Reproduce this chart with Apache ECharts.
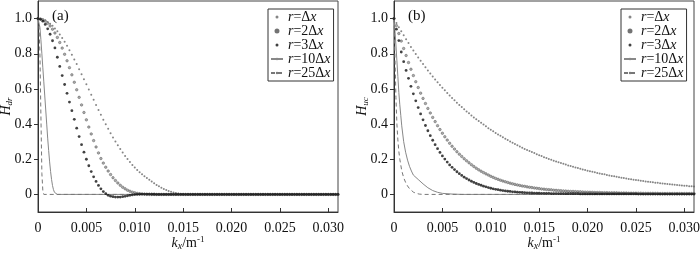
<!DOCTYPE html>
<html>
<head>
<meta charset="utf-8">
<script src="https://cdn.jsdelivr.net/npm/echarts@6/dist/echarts.min.js"></script>
<style>
  html, body { margin: 0; padding: 0; background: #fff; }
  #chart { width: 700px; height: 254px; }
</style>
</head>
<body>
<div id="chart"></div>
<script>
// sampling step of the dotted curves (k_x, 1/m)
const kStep = 0.00025

const xTicks = [0, 0.005, 0.01, 0.015, 0.02, 0.025, 0.03]
const yTicks = [0, 0.2, 0.4, 0.6, 0.8, 1.0]
const seriesNames = ['r=Δx', 'r=2Δx', 'r=3Δx', 'r=10Δx', 'r=25Δx']

// (a) H_dr
const aR1 = [
  1.000, 0.999, 0.995, 0.990, 0.981, 0.971, 0.959, 0.944, 0.928, 0.909,
  0.889, 0.868, 0.845, 0.820, 0.795, 0.768, 0.741, 0.712, 0.684, 0.655,
  0.626, 0.596, 0.567, 0.538, 0.509, 0.480, 0.453, 0.425, 0.399, 0.373,
  0.348, 0.324, 0.301, 0.279, 0.258, 0.238, 0.219, 0.201, 0.184, 0.168,
  0.153, 0.139, 0.126, 0.114, 0.103, 0.093, 0.083, 0.073, 0.063, 0.054,
  0.046, 0.038, 0.031, 0.025, 0.020, 0.015, 0.011, 0.008, 0.005, 0.003,
  0.001, 0, 0, 0, 0, 0, 0, 0, 0, 0,
  0, 0, 0, 0, 0, 0, 0, 0, 0, 0,
  0, 0, 0, 0, 0, 0, 0, 0, 0, 0,
  0, 0, 0, 0, 0, 0, 0, 0, 0, 0,
  0, 0, 0, 0, 0, 0, 0, 0, 0, 0,
  0, 0, 0, 0, 0, 0, 0, 0, 0, 0,
  0, 0, 0, 0, 0
]
const aR2 = [
  1.000, 0.998, 0.993, 0.985, 0.973, 0.958, 0.940, 0.918, 0.893, 0.864,
  0.832, 0.797, 0.760, 0.721, 0.680, 0.638, 0.595, 0.552, 0.509, 0.466,
  0.424, 0.383, 0.344, 0.306, 0.270, 0.236, 0.204, 0.178, 0.155, 0.133,
  0.113, 0.095, 0.079, 0.065, 0.052, 0.041, 0.032, 0.024, 0.018, 0.013,
  0.009, 0.006, 0.004, 0.002, 0.001, 0, 0, 0, 0, 0,
  0, 0, 0, 0, 0, 0, 0, 0, 0, 0,
  0, 0, 0, 0, 0, 0, 0, 0, 0, 0,
  0, 0, 0, 0, 0, 0, 0, 0, 0, 0,
  0, 0, 0, 0, 0, 0, 0, 0, 0, 0,
  0, 0, 0, 0, 0, 0, 0, 0, 0, 0,
  0, 0, 0, 0, 0, 0, 0, 0, 0, 0,
  0, 0, 0, 0, 0, 0, 0, 0, 0, 0,
  0, 0, 0, 0, 0
]
const aR3 = [
  1.000, 0.996, 0.985, 0.967, 0.942, 0.911, 0.874, 0.833, 0.780, 0.728,
  0.676, 0.625, 0.575, 0.525, 0.476, 0.427, 0.377, 0.329, 0.283, 0.240,
  0.200, 0.163, 0.130, 0.100, 0.074, 0.051, 0.032, 0.016, 0.004, -0.005,
  -0.010, -0.013, -0.015, -0.015, -0.015, -0.013, -0.011, -0.008, -0.005, -0.003,
  -0.001, 0.000, 0.001, 0.002, 0.002, 0.002, 0.002, 0.001, 0.001, 0,
  0, 0, 0, 0, 0, 0, 0, 0, 0, 0,
  0, 0, 0, 0, 0, 0, 0, 0, 0, 0,
  0, 0, 0, 0, 0, 0, 0, 0, 0, 0,
  0, 0, 0, 0, 0, 0, 0, 0, 0, 0,
  0, 0, 0, 0, 0, 0, 0, 0, 0, 0,
  0, 0, 0, 0, 0, 0, 0, 0, 0, 0,
  0, 0, 0, 0, 0, 0, 0, 0, 0, 0,
  0, 0, 0, 0, 0
]
const aR10K = [0, 0.0001, 0.0002, 0.0003, 0.0004, 0.0005, 0.0006, 0.0007, 0.0008, 0.0009, 0.001,
  0.0011, 0.0012, 0.0013, 0.0014, 0.0015, 0.0016, 0.0017, 0.0018, 0.0019, 0.002, 0.031]
const aR10H = [1.0, 0.99, 0.95, 0.88, 0.80, 0.72, 0.64, 0.56, 0.48, 0.40, 0.32,
  0.25, 0.185, 0.13, 0.085, 0.05, 0.027, 0.012, 0.005, 0.001, 0, 0]
const aR25K = [0, 0.0001, 0.0002, 0.0003, 0.0004, 0.0005, 0.0006, 0.031]
const aR25H = [1.0, 0.96, 0.80, 0.45, 0.12, 0.02, 0, 0]

// (b) H_uc
const bR1 = [
  1.000, 0.975, 0.951, 0.928, 0.905, 0.882, 0.861, 0.839, 0.819, 0.799,
  0.779, 0.760, 0.741, 0.723, 0.705, 0.687, 0.670, 0.654, 0.638, 0.622,
  0.607, 0.592, 0.577, 0.563, 0.549, 0.535, 0.522, 0.509, 0.497, 0.484,
  0.472, 0.461, 0.449, 0.438, 0.427, 0.417, 0.407, 0.397, 0.387, 0.377,
  0.368, 0.359, 0.350, 0.341, 0.333, 0.325, 0.317, 0.309, 0.301, 0.294,
  0.287, 0.279, 0.273, 0.266, 0.259, 0.253, 0.247, 0.241, 0.235, 0.229,
  0.223, 0.218, 0.212, 0.207, 0.202, 0.197, 0.192, 0.187, 0.183, 0.178,
  0.174, 0.170, 0.165, 0.161, 0.157, 0.153, 0.150, 0.146, 0.142, 0.139,
  0.135, 0.132, 0.129, 0.126, 0.122, 0.119, 0.116, 0.114, 0.111, 0.108,
  0.105, 0.103, 0.100, 0.098, 0.095, 0.093, 0.091, 0.088, 0.086, 0.084,
  0.082, 0.080, 0.078, 0.076, 0.074, 0.072, 0.071, 0.069, 0.067, 0.066,
  0.064, 0.062, 0.061, 0.059, 0.058, 0.056, 0.055, 0.054, 0.052, 0.051,
  0.050, 0.049, 0.047, 0.046, 0.045
]
const bR2 = [
  1.000, 0.960, 0.915, 0.872, 0.830, 0.790, 0.750, 0.712, 0.676, 0.641,
  0.608, 0.576, 0.546, 0.517, 0.489, 0.463, 0.438, 0.414, 0.391, 0.369,
  0.348, 0.328, 0.309, 0.291, 0.274, 0.258, 0.243, 0.229, 0.216, 0.203,
  0.191, 0.180, 0.169, 0.159, 0.149, 0.140, 0.132, 0.124, 0.117, 0.110,
  0.103, 0.097, 0.091, 0.086, 0.081, 0.076, 0.072, 0.068, 0.064, 0.060,
  0.057, 0.054, 0.051, 0.048, 0.046, 0.043, 0.041, 0.039, 0.037, 0.035,
  0.033, 0.031, 0.030, 0.028, 0.027, 0.026, 0.024, 0.023, 0.022, 0.021,
  0.020, 0.019, 0.018, 0.017, 0.017, 0.016, 0.015, 0.015, 0.014, 0.013,
  0.013, 0.012, 0.012, 0.011, 0.011, 0.011, 0.010, 0.010, 0.010, 0.009,
  0.009, 0.009, 0.009, 0.008, 0.008, 0.008, 0.008, 0.007, 0.007, 0.007,
  0.007, 0.007, 0.007, 0.006, 0.006, 0.006, 0.006, 0.006, 0.006, 0.006,
  0.005, 0.005, 0.005, 0.005, 0.005, 0.005, 0.005, 0.005, 0.005, 0.005,
  0.005, 0.005, 0.005, 0.005, 0.005
]
const bR3 = [
  1.000, 0.940, 0.875, 0.810, 0.755, 0.705, 0.660, 0.615, 0.572, 0.532,
  0.494, 0.458, 0.424, 0.392, 0.362, 0.334, 0.308, 0.283, 0.260, 0.239,
  0.219, 0.201, 0.184, 0.168, 0.154, 0.141, 0.129, 0.118, 0.108, 0.098,
  0.090, 0.082, 0.075, 0.068, 0.062, 0.057, 0.052, 0.047, 0.043, 0.039,
  0.035, 0.032, 0.029, 0.027, 0.024, 0.022, 0.020, 0.018, 0.017, 0.015,
  0.014, 0.013, 0.012, 0.011, 0.010, 0.009, 0.008, 0.008, 0.007, 0.007,
  0.007, 0.006, 0.006, 0.006, 0.006, 0.005, 0.005, 0.005, 0.005, 0.005,
  0.004, 0.004, 0.004, 0.004, 0.004, 0.004, 0.004, 0.003, 0.003, 0.003,
  0.003, 0.003, 0.003, 0.003, 0.003, 0.003, 0.003, 0.003, 0.003, 0.003,
  0.003, 0.003, 0.003, 0.003, 0.003, 0.003, 0.003, 0.003, 0.003, 0.003,
  0.003, 0.002, 0.002, 0.002, 0.002, 0.002, 0.002, 0.002, 0.002, 0.002,
  0.002, 0.002, 0.002, 0.002, 0.002, 0.002, 0.002, 0.002, 0.002, 0.002,
  0.002, 0.002, 0.002, 0.002, 0.002
]
const bR10K = [0, 0.0001, 0.0002, 0.0003, 0.0004, 0.0005, 0.0006, 0.0007, 0.0008, 0.001,
  0.0012, 0.0014, 0.0016, 0.0018, 0.002, 0.0025, 0.003, 0.0035, 0.004, 0.0045, 0.005, 0.006, 0.007, 0.031]
const bR10H = [1.0, 0.93, 0.85, 0.76, 0.67, 0.58, 0.51, 0.45, 0.39, 0.30,
  0.24, 0.195, 0.16, 0.133, 0.11, 0.085, 0.06, 0.038, 0.022, 0.012, 0.006, 0.002, 0, 0]
const bR25K = [0, 0.0001, 0.0002, 0.0003, 0.0004, 0.0005, 0.0006, 0.0008, 0.001, 0.0012,
  0.0014, 0.0016, 0.0018, 0.002, 0.0023, 0.0026, 0.003, 0.031]
const bR25H = [1.0, 0.78, 0.55, 0.40, 0.31, 0.245, 0.20, 0.135, 0.095, 0.068,
  0.048, 0.033, 0.022, 0.013, 0.006, 0.002, 0, 0]

const serif = "'Liberation Serif', 'DejaVu Serif', serif"

function dots(arr) {
  return arr.map((h, i) => [i * kStep, h])
}
function pairs(ks, hs) {
  return ks.map((k, i) => [k, hs[i]])
}

function xAxisCfg(gridIndex) {
  return {
    gridIndex,
    type: 'value',
    min: 0,
    max: 0.031,
    name: '{i|k}{sub|x}{t|/m}{sup|-1}',
    nameLocation: 'middle',
    nameGap: 23,
    nameMoveOverlap: false,
    nameTextStyle: {
      color: '#111',
      fontFamily: serif,
      fontSize: 14,
      rich: {
        i: { fontStyle: 'italic', fontFamily: serif, fontSize: 14, color: '#111', lineHeight: 16 },
        t: { fontFamily: serif, fontSize: 14, color: '#111', lineHeight: 16 },
        sub: { fontStyle: 'italic', fontFamily: serif, fontSize: 10, color: '#111', verticalAlign: 'bottom', lineHeight: 9 },
        sup: { fontFamily: serif, fontSize: 9, color: '#111', verticalAlign: 'top', lineHeight: 8 }
      }
    },
    axisLine: { show: true, onZero: false, lineStyle: { color: '#333', width: 1 } },
    axisTick: { show: true, inside: true, length: 4, customValues: xTicks, lineStyle: { color: '#333' } },
    axisLabel: {
      customValues: xTicks,
      color: '#111',
      fontFamily: serif,
      fontSize: 14,
      margin: 9,
      formatter: v => (v === 0 ? '0' : v.toFixed(3))
    },
    splitLine: { show: false }
  }
}

function yAxisCfg(gridIndex, sub) {
  return {
    gridIndex,
    type: 'value',
    min: -0.1,
    max: 1.1,
    name: '{i|H}{sub|' + sub + '}',
    nameLocation: 'middle',
    nameRotate: 90,
    nameGap: 24,
    nameMoveOverlap: false,
    nameTextStyle: {
      color: '#111',
      fontFamily: serif,
      fontSize: 14,
      rich: {
        i: { fontStyle: 'italic', fontFamily: serif, fontSize: 14, color: '#111', lineHeight: 16 },
        sub: { fontStyle: 'italic', fontFamily: serif, fontSize: 9, color: '#111', verticalAlign: 'bottom', lineHeight: 9 }
      }
    },
    axisLine: { show: true, onZero: false, lineStyle: { color: '#333', width: 1 } },
    axisTick: { show: true, inside: false, length: 4, customValues: yTicks, lineStyle: { color: '#333' } },
    axisLabel: {
      customValues: yTicks,
      color: '#111',
      fontFamily: serif,
      fontSize: 14,
      margin: 6,
      formatter: v => (v === 0 ? '0' : v.toFixed(1))
    },
    splitLine: { show: false }
  }
}

function legendCfg(left) {
  return {
    left,
    top: 9,
    orient: 'vertical',
    data: seriesNames,
    itemWidth: 12,
    itemHeight: 3,
    itemGap: 0,
    padding: [1, 3, 1, 2],
    borderColor: '#333',
    borderWidth: 1,
    backgroundColor: '#fff',
    formatter: name => {
      const c = name.replace('r=', '').replace('Δx', '')
      return '{i|r}=' + c + 'Δ{i|x}'
    },
    textStyle: {
      color: '#111',
      fontFamily: serif,
      fontSize: 14,
      lineHeight: 13.4,
      rich: { i: { fontStyle: 'italic', fontFamily: serif, fontSize: 14, lineHeight: 13.4, color: '#111' } }
    }
  }
}

function panelSeries(idx, r1, r2, r3, k10, h10, k25, h25) {
  return [
    {
      name: 'r=10Δx', type: 'line', xAxisIndex: idx, yAxisIndex: idx,
      data: pairs(k10, h10), symbol: 'none', showSymbol: false, z: 2,
      lineStyle: { color: '#888', width: 1 }, itemStyle: { color: '#888' }
    },
    {
      name: 'r=25Δx', type: 'line', xAxisIndex: idx, yAxisIndex: idx,
      data: pairs(k25, h25), symbol: 'none', showSymbol: false, z: 2,
      lineStyle: { color: '#777', width: 1, type: [4, 3] }, itemStyle: { color: '#777' }
    },
    {
      name: 'r=Δx', type: 'scatter', xAxisIndex: idx, yAxisIndex: idx,
      data: dots(r1), symbol: 'circle', symbolSize: 2, symbolKeepAspect: true, z: 3,
      itemStyle: { color: '#666' }
    },
    {
      name: 'r=2Δx', type: 'scatter', xAxisIndex: idx, yAxisIndex: idx,
      data: dots(r2), symbol: 'circle', symbolSize: 2.5, symbolKeepAspect: true, z: 3,
      itemStyle: { color: '#999', borderColor: '#555', borderWidth: 0.6 }
    },
    {
      name: 'r=3Δx', type: 'scatter', xAxisIndex: idx, yAxisIndex: idx,
      data: dots(r3), symbol: 'circle', symbolSize: 2.8, symbolKeepAspect: true, z: 4,
      itemStyle: { color: '#111' }
    }
  ]
}

const chart = echarts.init(document.getElementById('chart'))
const option = {
  animation: false,
  backgroundColor: '#fff',
  title: [
    { text: '(a)', left: 47, top: 4, textStyle: { fontFamily: serif, fontSize: 15, fontWeight: 'normal', color: '#111' } },
    { text: '(b)', left: 403, top: 4, textStyle: { fontFamily: serif, fontSize: 15, fontWeight: 'normal', color: '#111' } }
  ],
  grid: [
    { left: 38, top: 1, width: 300, height: 211, show: true, borderColor: '#444', borderWidth: 1, outerBoundsMode: 'none' },
    { left: 394, top: 1, width: 300, height: 211, show: true, borderColor: '#444', borderWidth: 1, outerBoundsMode: 'none' }
  ],
  legend: [legendCfg(268), legendCfg(621)],
  xAxis: [xAxisCfg(0), xAxisCfg(1)],
  yAxis: [yAxisCfg(0, 'dr'), yAxisCfg(1, 'uc')],
  series: [
    ...panelSeries(0, aR1, aR2, aR3, aR10K, aR10H, aR25K, aR25H),
    ...panelSeries(1, bR1, bR2, bR3, bR10K, bR10H, bR25K, bR25H)
  ]
}
chart.setOption(option)
</script>
</body>
</html>
